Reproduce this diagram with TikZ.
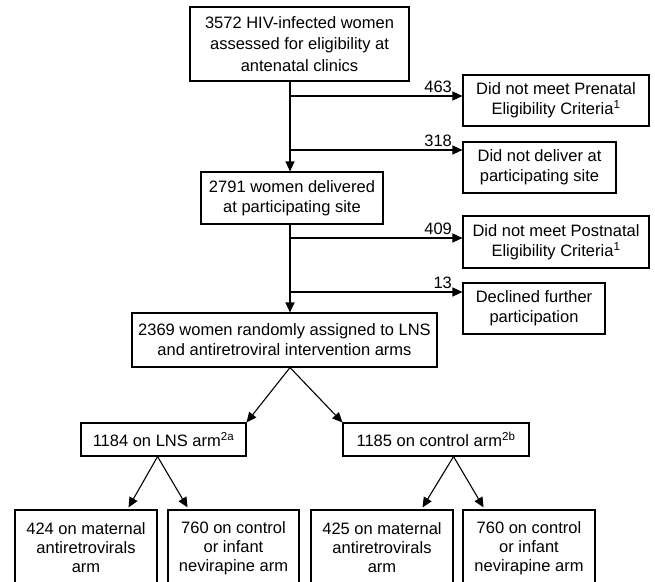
\documentclass[tikz,border=0pt]{standalone}
\usepackage{fontspec}
\setmainfont{Liberation Sans}
\usetikzlibrary{arrows.meta,calc}
\begin{document}
\begin{tikzpicture}[x=1pt,y=-1pt,
  box/.style={draw,line width=1.1pt,rectangle,inner sep=0pt,align=center,font=\fontsize{16.5}{20}\selectfont},
  arr/.style={line width=1.1pt,-{Triangle[length=10pt,width=9pt]}},
  num/.style={anchor=south east,inner sep=1pt,xshift=-9pt,yshift=1.5pt,font=\fontsize{16.5}{20}\selectfont}]
\useasboundingbox (0,0) rectangle (655,581);
\clip (0,0) rectangle (655,581);
\node[box,minimum width=219pt,minimum height=74pt,font=\fontsize{16.5}{21.5}\selectfont] (b1) at (299.5,44) {3572 HIV-infected women\\assessed for eligibility at\\antenatal clinics};
\node[box,minimum width=186pt,minimum height=51pt] (pre) at (556,100.5) {Did not meet Prenatal\\Eligibility Criteria\textsuperscript{1}};
\node[box,minimum width=153pt,minimum height=51pt] (del) at (539.5,167.5) {Did not deliver at\\participating site};
\node[box,minimum width=182pt,minimum height=52pt] (b2) at (292,198) {2791 women delivered\\at participating site};
\node[box,minimum width=186pt,minimum height=52pt] (post) at (556,242) {Did not meet Postnatal\\Eligibility Criteria\textsuperscript{1}};
\node[box,minimum width=142pt,minimum height=51pt] (decl) at (534,308.5) {Declined further\\participation};
\node[box,minimum width=305pt,minimum height=54pt] (b3) at (284.5,340) {2369 women randomly assigned to LNS\\and antiretroviral intervention arms};
\node[box,minimum width=165pt,minimum height=33pt] (lns) at (163.5,439.5) {1184 on LNS arm\textsuperscript{2a}};
\node[box,minimum width=186pt,minimum height=33pt] (ctl) at (436,439.5) {1185 on control arm\textsuperscript{2b}};
\node[box,minimum width=142pt,minimum height=76pt,font=\fontsize{16.5}{19}\selectfont] (A) at (86,548) {424 on maternal\\antiretrovirals\\arm};
\node[box,minimum width=131pt,minimum height=76pt,font=\fontsize{16.5}{19}\selectfont] (B) at (233.5,548) {760 on control\\or infant\\nevirapine arm};
\node[box,minimum width=142pt,minimum height=76pt,font=\fontsize{16.5}{19}\selectfont] (C) at (382,548) {425 on maternal\\antiretrovirals\\arm};
\node[box,minimum width=132pt,minimum height=76pt,font=\fontsize{16.5}{19}\selectfont] (D) at (529,548) {760 on control\\or infant\\nevirapine arm};
\coordinate (tr) at (290,0);
\draw[arr] (b1.south -| tr) -- (b2.north -| tr);
\draw[arr] (b2.south -| tr) -- (b3.north -| tr);
\coordinate (j1) at (290,96);
\coordinate (j2) at (290,150);
\coordinate (j3) at (290,238);
\coordinate (j4) at (290,292);
\draw[arr] (j1) -- (j1 -| pre.west) node[num] (n1) {463};
\draw[arr] (j2) -- (j2 -| del.west) node[num] (n2) {318};
\draw[arr] (j3) -- (j3 -| post.west) node[num] (n3) {409};
\draw[arr] (j4) -- (j4 -| decl.west) node[num] (n4) {13};
\coordinate (ap) at (b3.south -| tr);
\draw[arr] (ap) -- (lns.north east);
\draw[arr] (ap) -- (ctl.north west);
\coordinate (la) at (lns.south -| A.east);
\draw[arr] (la) -- ($(la |- A.north)+(-29,-2)$);
\draw[arr] (la) -- ($(la |- A.north)+(30,-2)$);
\coordinate (ca) at (ctl.south -| C.east);
\draw[arr] (ca) -- ($(ca |- C.north)+(-31,-2)$);
\draw[arr] (ca) -- ($(ca |- C.north)+(30,-2)$);
\end{tikzpicture}
\end{document}
